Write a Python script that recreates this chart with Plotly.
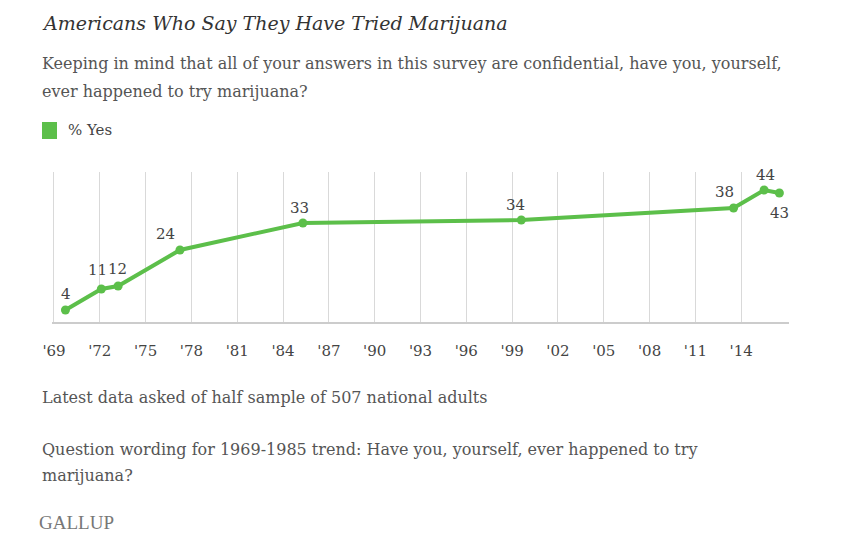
import plotly.graph_objects as go

# ---- data ----
years = [1969.75, 1972.1, 1973.2, 1977.25, 1985.3, 1999.6, 2013.5, 2015.5, 2016.5]
pct_yes = [4, 11, 12, 24, 33, 34, 38, 44, 43]
tick_years = list(range(1969, 2015, 3))
tick_labels = ["'69", "'72", "'75", "'78", "'81", "'84", "'87", "'90", "'93", "'96",
               "'99", "'02", "'05", "'08", "'11", "'14"]

# label offsets (px) per point (style)
label_dx = [1, -4, -1, -14, -3, -6, -9, 1, 0]
label_dy = [16, 19, 17, 16, 15, 15, 16, 15, -20]

GREEN = "#5cbf4a"
SERIF = "DejaVu Serif"

# plot area in pixels
L, R, T, B = 52, 65, 172, 232
W, H = 854, 554
PW, PH = W - L - R, H - T - B


def px(x):
    return (x - L) / PW


def py(y):
    return (H - B - y) / PH


fig = go.Figure()
fig.add_trace(go.Scatter(
    x=years, y=pct_yes, mode="lines+markers",
    line=dict(color=GREEN, width=4),
    marker=dict(color=GREEN, size=9),
    hoverinfo="skip", showlegend=False,
))

annotations = []
for xv, yv, dx, dy in zip(years, pct_yes, label_dx, label_dy):
    annotations.append(dict(
        x=xv, y=yv, xref="x", yref="y", text=str(yv), showarrow=False,
        xshift=dx, yshift=dy, font=dict(family=SERIF, size=15, color="#444444"),
        xanchor="center", yanchor="middle",
    ))

def txt(text, x, y, size, color, italic=False, family=SERIF):
    annotations.append(dict(
        x=px(x), y=py(y), xref="paper", yref="paper", text=text, showarrow=False,
        xanchor="left", yanchor="middle",
        font=dict(family=family, size=size, color=color,
                  style="italic" if italic else "normal"),
    ))

txt("Americans Who Say They Have Tried Marijuana", 40, 23, 19, "#333333", italic=True)
txt("Keeping in mind that all of your answers in this survey are confidential, have you, yourself,",
    40, 63, 16, "#555555")
txt("ever happened to try marijuana?", 40, 91, 16, "#555555")
txt("% Yes", 66, 130, 15, "#444444")
txt("Latest data asked of half sample of 507 national adults", 40, 397, 16, "#555555")
txt("Question wording for 1969-1985 trend: Have you, yourself, ever happened to try",
    40, 449, 16, "#555555")
txt("marijuana?", 40, 476, 16, "#555555")
txt("GALLUP", 37, 522, 19, "#777777", family="Liberation Serif")

fig.add_shape(type="rect", xref="paper", yref="paper",
              x0=px(42), x1=px(57), y0=py(139), y1=py(122),
              fillcolor=GREEN, line=dict(width=0))

fig.update_layout(
    width=W, height=H,
    margin=dict(l=L, r=R, t=T, b=B, pad=0),
    paper_bgcolor="white", plot_bgcolor="white",
    annotations=annotations,
    xaxis=dict(
        range=[1968.87, 2017.13], tickmode="array", tickvals=tick_years, ticktext=tick_labels,
        showgrid=True, gridcolor="#d9d9d9", gridwidth=1, zeroline=False,
        showline=True, linecolor="#cccccc", linewidth=2,
        ticks="", ticklabelstandoff=14,
        tickfont=dict(family=SERIF, size=15, color="#444444"),
        fixedrange=True,
    ),
    yaxis=dict(
        range=[0, 50], showgrid=False, zeroline=False, showticklabels=False,
        showline=False, fixedrange=True,
    ),
)

fig.write_html("out.html", config={"displayModeBar": False},
               post_script="document.body.style.margin='0';")
